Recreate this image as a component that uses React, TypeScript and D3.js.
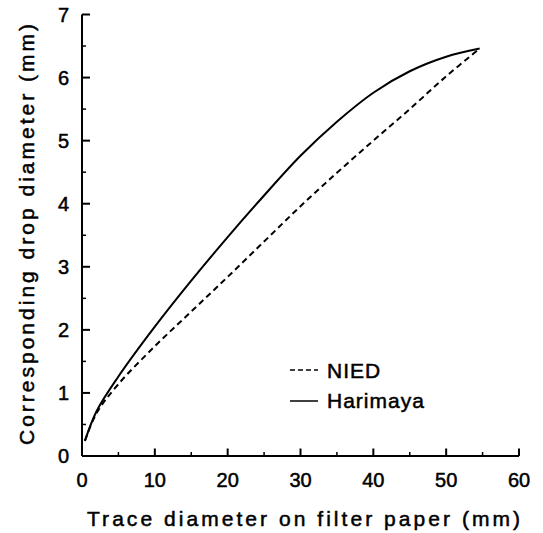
import React from "react";
import * as d3 from "d3";

const xTicks = [0, 10, 20, 30, 40, 50, 60];
const yTicks = [0, 1, 2, 3, 4, 5, 6, 7];
const xMinorTicks = [5, 15, 25, 35, 45, 55];
const yMinorTicks = [0.5, 1.5, 2.5, 3.5, 4.5, 5.5, 6.5];

const nied = [
  [0.4, 0.24], [2, 0.68], [5, 1.14], [10, 1.74], [15, 2.29], [20, 2.84],
  [25, 3.4], [30, 3.96], [35, 4.49], [40, 5.0], [45, 5.5], [50, 6.02], [54.6, 6.46],
];
const harimaya = [
  [0.4, 0.24], [2, 0.71], [5, 1.26], [10, 2.05], [15, 2.78], [20, 3.47],
  [25, 4.13], [30, 4.76], [35, 5.3], [40, 5.76], [45, 6.1], [50, 6.33], [54.6, 6.46],
];
const legendItems = ["NIED", "Harimaya"];
const xLabel = "Trace diameter on filter paper (mm)";
const yLabel = "Corresponding drop diameter (mm)";

export default function App() {
  const x = d3.scaleLinear().domain([0, 60]).range([82, 519]);
  const y = d3.scaleLinear().domain([0, 7]).range([456, 14.5]);
  const line = d3
    .line<number[]>()
    .x((d) => x(d[0]))
    .y((d) => y(d[1]))
    .curve(d3.curveCatmullRom.alpha(0.5));
  const font = "'Liberation Sans', Arial, sans-serif";
  const textStyle = { stroke: "#000", strokeWidth: 0.5 };
  return (
    <svg
      width={543}
      height={533}
      style={{ position: "absolute", left: 0, top: 0, background: "#fff" }}
      fontFamily={font}
    >
      <rect x={0} y={0} width={543} height={533} fill="#fff" />
      {/* axes */}
      <line x1={x(0)} x2={x(60)} y1={y(0)} y2={y(0)} stroke="#000" strokeWidth={2} />
      <line x1={x(0)} x2={x(0)} y1={y(0)} y2={y(7)} stroke="#000" strokeWidth={2} />
      {xTicks.map((t) => (
        <g key={"xt" + t}>
          <line x1={x(t)} x2={x(t)} y1={y(0)} y2={y(0) - 7.5} stroke="#000" strokeWidth={2} />
          <text x={x(t)} y={487} fontSize={20} textAnchor="middle" fill="#000" style={textStyle}>
            {t}
          </text>
        </g>
      ))}
      {xMinorTicks.map((t) => (
        <line key={"xm" + t} x1={x(t)} x2={x(t)} y1={y(0)} y2={y(0) - 4} stroke="#000" strokeWidth={1.5} />
      ))}
      {yTicks.map((t) => (
        <g key={"yt" + t}>
          <line x1={x(0)} x2={x(0) + 8} y1={y(t)} y2={y(t)} stroke="#000" strokeWidth={2} />
          <text x={69} y={y(t) + 7} fontSize={20} textAnchor="end" fill="#000" style={textStyle}>
            {t}
          </text>
        </g>
      ))}
      {yMinorTicks.map((t) => (
        <line key={"ym" + t} x1={x(0)} x2={x(0) + 4} y1={y(t)} y2={y(t)} stroke="#000" strokeWidth={1.5} />
      ))}
      {/* curves */}
      <path d={line(nied) || ""} fill="none" stroke="#000" strokeWidth={2} strokeDasharray="6,4" />
      <path d={line(harimaya) || ""} fill="none" stroke="#000" strokeWidth={2} />
      {/* legend */}
      <line x1={290} x2={318} y1={370} y2={370} stroke="#000" strokeWidth={1.5} strokeDasharray="5,3" />
      <text x={327} y={378} fontSize={21} fill="#000" letterSpacing={1} style={textStyle}>
        {legendItems[0]}
      </text>
      <line x1={290} x2={318} y1={401} y2={401} stroke="#000" strokeWidth={1.5} />
      <text x={327} y={408} fontSize={21} fill="#000" letterSpacing={1} style={textStyle}>
        {legendItems[1]}
      </text>
      {/* axis labels */}
      <text x={87} y={526} fontSize={21} fill="#000" textLength={433} lengthAdjust="spacing" style={textStyle}>
        {xLabel}
      </text>
      <text
        transform="translate(34,445) rotate(-90)"
        x={0}
        y={0}
        fontSize={21}
        fill="#000"
        textLength={421}
        lengthAdjust="spacing"
        style={textStyle}
      >
        {yLabel}
      </text>
    </svg>
  );
}
